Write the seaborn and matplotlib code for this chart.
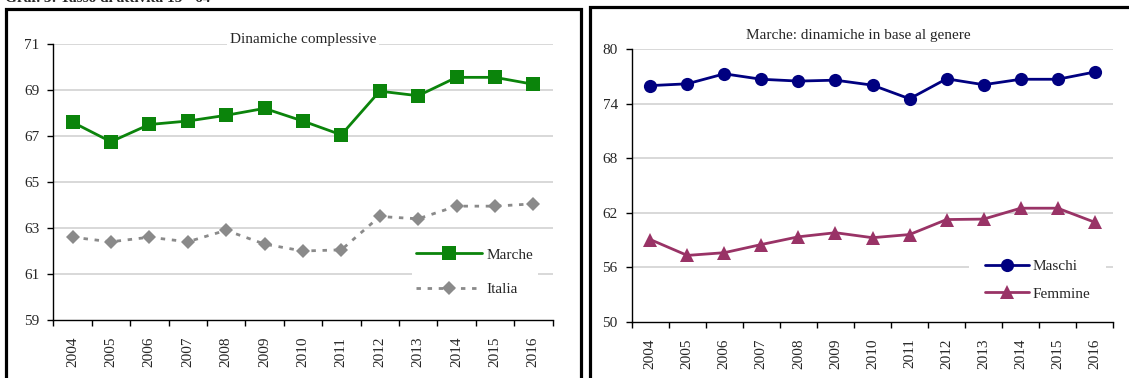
import matplotlib
matplotlib.use("Agg")
import matplotlib.pyplot as plt
from matplotlib.patches import Rectangle
from matplotlib.ticker import FixedLocator, NullFormatter
import seaborn as sns
import pandas as pd

# ---- data ----
years = [2004, 2005, 2006, 2007, 2008, 2009, 2010, 2011, 2012, 2013, 2014, 2015, 2016]
year_labels = [str(y) for y in years]

marche = [67.6, 66.75, 67.5, 67.65, 67.9, 68.2, 67.65, 67.05, 68.95, 68.75, 69.55, 69.55, 69.25]
italia = [62.6, 62.4, 62.6, 62.4, 62.9, 62.3, 62.0, 62.05, 63.5, 63.4, 63.95, 63.95, 64.05]

maschi = [76.0, 76.2, 77.3, 76.7, 76.5, 76.6, 76.05, 74.55, 76.75, 76.1, 76.7, 76.7, 77.5]
femmine = [59.05, 57.3, 57.6, 58.5, 59.35, 59.8, 59.25, 59.6, 61.25, 61.3, 62.5, 62.5, 60.95]

left_yticks = [59, 61, 63, 65, 67, 69, 71]
right_yticks = [50, 56, 62, 68, 74, 80]

header = "Graf. 3: Tasso di attività 15 - 64"
left_title = "Dinamiche complessive"
right_title = "Marche: dinamiche in base al genere"

# ---- style ----
sns.set_theme(style="white")
plt.rcParams["font.family"] = ["Liberation Serif", "DejaVu Serif"]
plt.rcParams["font.size"] = 11

W, H = 1129, 378
fig = plt.figure(figsize=(W / 100, H / 100), dpi=100)


def fx(x):
    return x / W


def fy(y):
    return 1 - y / H


ax1 = fig.add_axes([fx(53.3), fy(320), fx(552.5) - fx(53.3), fy(44) - fy(320)])
ax2 = fig.add_axes([fx(631.7), fy(321.7), fx(1113.3) - fx(631.7), fy(49.3) - fy(321.7)])

df_left = pd.DataFrame({"anno": years, "Marche": marche, "Italia": italia})
df_right = pd.DataFrame({"anno": years, "Maschi": maschi, "Femmine": femmine})

sns.lineplot(data=df_left, x="anno", y="Marche", ax=ax1, color="#0b840b", linewidth=2.0,
             marker="s", markersize=10, markeredgewidth=0, label="Marche", zorder=4)
sns.lineplot(data=df_left, x="anno", y="Italia", ax=ax1, color="#8a8a8a", linewidth=2.0,
             linestyle=(0, (1.6, 2.4)), marker="D", markersize=7.5, markeredgewidth=0,
             label="Italia", zorder=3)

sns.lineplot(data=df_right, x="anno", y="Maschi", ax=ax2, color="#000080", linewidth=2.0,
             marker="o", markersize=9.5, markeredgewidth=0, label="Maschi", zorder=4)
sns.lineplot(data=df_right, x="anno", y="Femmine", ax=ax2, color="#993366", linewidth=2.0,
             marker="^", markersize=10, markeredgewidth=0, label="Femmine", zorder=3)


def style_axes(ax, yticks):
    ax.set_xlim(years[0] - 0.5, years[-1] + 0.5)
    ax.set_ylim(yticks[0], yticks[-1])
    ax.set_yticks(yticks)
    ax.set_xticks(years)
    ax.set_xticklabels(year_labels, rotation=90)
    ax.xaxis.set_minor_locator(FixedLocator([y - 0.5 for y in years] + [years[-1] + 0.5]))
    ax.xaxis.set_minor_formatter(NullFormatter())
    ax.tick_params(axis="x", which="major", length=0, pad=12, labelsize=11)
    ax.tick_params(axis="x", which="minor", length=4, width=1, color="black", direction="out",
                   bottom=True)
    ax.tick_params(axis="y", which="major", length=4, width=1, color="black", direction="out",
                   left=True, pad=6, labelsize=11)
    ax.set_xlabel("")
    ax.set_ylabel("")
    for side in ("top", "right"):
        ax.spines[side].set_visible(False)
    for side in ("left", "bottom"):
        ax.spines[side].set_color("black")
        ax.spines[side].set_linewidth(1.0)
        ax.spines[side].set_zorder(7)
    for t in yticks[1:]:
        ax.axhline(t, color="#d6d6d6", linewidth=1.3, zorder=1)
    ax.set_facecolor("white")


style_axes(ax1, left_yticks)
style_axes(ax2, right_yticks)

# legends: white box without edge, covering the grid behind it
leg1 = ax1.legend(loc="center left", bbox_to_anchor=(fx(404), fy(272)),
                  bbox_transform=fig.transFigure, frameon=True, fancybox=False,
                  facecolor="white", edgecolor="none", framealpha=1, borderpad=0.3,
                  handlelength=4.3, handletextpad=0.3, labelspacing=1.35, fontsize=11)
leg1.set_zorder(6)
leg2 = ax2.legend(loc="center left", bbox_to_anchor=(fx(961.6), fy(280)),
                  bbox_transform=fig.transFigure, frameon=True, fancybox=False,
                  facecolor="white", edgecolor="none", framealpha=1, borderpad=1.0,
                  handlelength=2.9, handletextpad=0.25, labelspacing=0.9, fontsize=11)
leg2.set_zorder(6)

# panel titles
fig.text(fx(302.9), fy(39), left_title, ha="center", va="center", fontsize=11, zorder=10,
         bbox=dict(facecolor="white", edgecolor="none", pad=2.0))
fig.text(fx(858), fy(36), right_title, ha="center", va="center", fontsize=11, zorder=10)

# heading of the figure, running off the top edge
fig.text(fx(5), fy(2.5), header, ha="left", va="baseline", fontsize=11, fontweight="bold")

# thick panel frames
fig.patches.append(Rectangle((fx(6), fy(420)), fx(580.5) - fx(6), fy(8.5) - fy(420),
                             transform=fig.transFigure, fill=False, edgecolor="black",
                             linewidth=2.3, clip_on=False))
fig.patches.append(Rectangle((fx(589.5), fy(420)), fx(1160) - fx(589.5), fy(6.5) - fy(420),
                             transform=fig.transFigure, fill=False, edgecolor="black",
                             linewidth=2.3, clip_on=False))

fig.savefig("out.png", dpi=100, facecolor="white")
